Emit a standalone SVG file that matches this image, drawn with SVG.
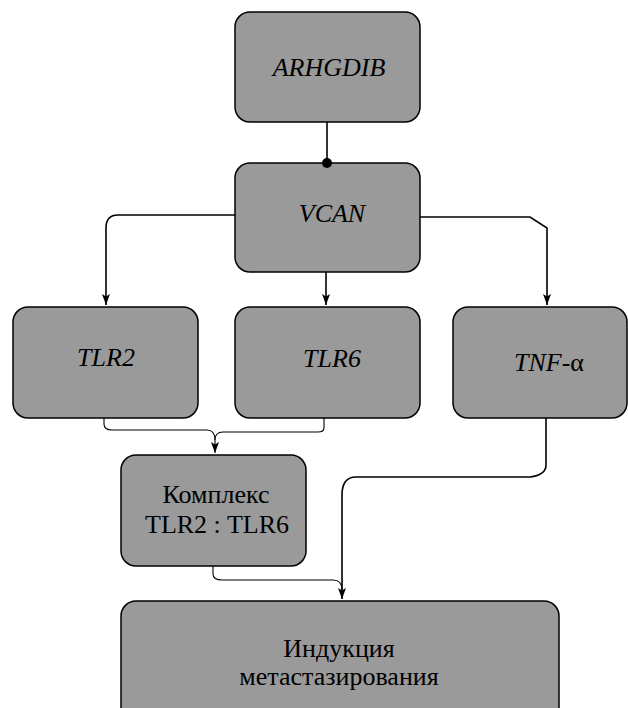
<svg xmlns="http://www.w3.org/2000/svg" width="628" height="708" viewBox="0 0 628 708">
<style>
.box{fill:#9a9a9a;stroke:#000;stroke-width:1.5}
.c{fill:none;stroke:#000;stroke-width:1.6}
.c2{fill:none;stroke:#000;stroke-width:1.1}
text{font-family:'Liberation Serif','DejaVu Serif',serif;font-size:26px;text-anchor:middle;fill:#000}
.i{font-style:italic}
</style>
<defs>
<marker id="a" markerWidth="12" markerHeight="8" refX="11" refY="4" orient="auto" markerUnits="userSpaceOnUse" viewBox="0 0 12 8">
<path d="M0,0 L11,4 L0,8 L2.5,4 Z" fill="#000"/>
</marker>
</defs>
<rect width="628" height="708" fill="#fff"/>
<g id="n-arhgdib"><rect class="box" x="235" y="12" width="185" height="110" rx="15"/><text class="i" x="329" y="76">ARHGDIB</text></g>
<g id="n-vcan"><rect class="box" x="235" y="163" width="185" height="109" rx="15"/><text class="i" x="332" y="222">VCAN</text></g>
<g id="n-tlr2"><rect class="box" x="13" y="307" width="185" height="111" rx="15"/><text class="i" x="106" y="366">TLR2</text></g>
<g id="n-tlr6"><rect class="box" x="235" y="307" width="185" height="111" rx="15"/><text class="i" x="332" y="367">TLR6</text></g>
<g id="n-tnf"><rect class="box" x="453" y="307" width="174" height="111" rx="15"/><text x="549" y="371"><tspan class="i">TNF</tspan>-α</text></g>
<g id="n-complex"><rect class="box" x="121" y="455" width="185" height="111" rx="15"/><text x="216" y="503">Комплекс</text><text x="217" y="533">TLR2 : TLR6</text></g>
<g id="n-induction"><rect class="box" x="121" y="601" width="438" height="130" rx="15"/><text x="339" y="657">Индукция</text><text x="339" y="685">метастазирования</text></g>
<g id="connectors">
<path class="c" d="M327,122 V163"/>
<circle cx="327" cy="163" r="5" fill="#000"/>
<path class="c" d="M235,215 H118 Q106,215 106,228 V305" marker-end="url(#a)"/>
<path class="c" d="M326,272 V305" marker-end="url(#a)"/>
<path class="c" d="M420,217 H530 L547,228 V305" marker-end="url(#a)"/>
<path class="c2" d="M104,418 V424 Q104,430 112,430 H207 Q215,430 215,440 V453" marker-end="url(#a)"/>
<path class="c2" d="M324,418 V428 Q324,432 318,432 H223 Q215,432 215,440"/>
<path class="c" d="M546,418 V465 Q546,475 530,477 H356 Q342,477 342,495 V599" marker-end="url(#a)"/>
<path class="c2" d="M213,566 V574 Q213,580 222,580 H333 Q342,580 342,590"/>
</g>
</svg>
